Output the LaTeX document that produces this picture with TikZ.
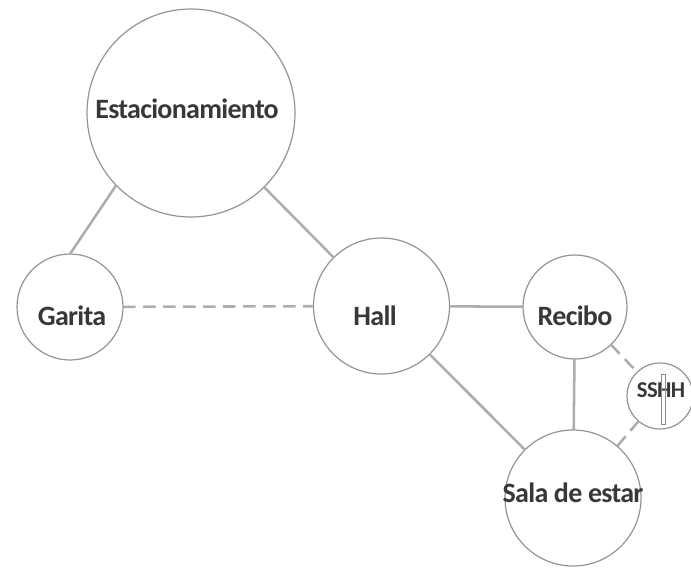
\documentclass[tikz,border=0pt]{standalone}
\usepackage{fontspec}
\setmainfont{Carlito}
\newfontfamily\roomfont[LetterSpace=-2.5]{Carlito}
\begin{document}
\begin{tikzpicture}[x=0.75pt,y=-0.75pt,
  room/.style={circle,draw=black!42,line width=0.9pt,fill=white,inner sep=0pt,outer sep=0pt},
  link/.style={draw=black!32,line width=1.9pt},
  weaklink/.style={link,dash pattern=on 9.5pt off 5.5pt},
  roomname/.style={anchor=base,inner sep=0pt,text=black!78,font=\roomfont\bfseries\fontsize{21}{21}\selectfont},
  smallname/.style={roomname,font=\roomfont\bfseries\fontsize{17}{17}\selectfont}]
\useasboundingbox (0,0) rectangle (691,568);

% rooms
\node[room,minimum size=156pt]   (est)  at (191,113)   {};
\node[room,minimum size=79.5pt]  (gar)  at (70,307)    {};
\node[room,minimum size=102pt]   (hall) at (381.5,306) {};
\node[room,minimum size=78pt]    (rec)  at (575,307)   {};
\node[room,minimum size=49.5pt]  (ssh)  at (660,396)   {};
\node[room,minimum size=102pt]   (sala) at (573,498)   {};

% connections
\draw[link] (est.224) -- (gar.90);
\draw[link] (est) -- (hall);
\draw[weaklink] (gar) -- (hall);
\draw[link] (hall) -- (rec);
\draw[link] (hall) -- (sala);
\draw[link] (rec) -- (sala);
\draw[weaklink] (rec) -- (ssh);
\draw[weaklink] (ssh) -- (sala);

% names
\node[roomname]  (estT)  at (187,118) {Estacionamiento};
\node[roomname]  (garT)  at (72,325)  {Garita};
\node[roomname]  (hallT) at (375,325) {Hall};
\node[roomname]  (recT)  at (575,325) {Recibo};
\node[smallname] (sshT)  at (661,397) {SSHH};
\node[roomname]  (salaT) at (573,502) {Sala de estar};

% thin marker bar inside SSHH
\draw[draw=black!45,line width=0.6pt] (661.5,374) rectangle (665,424);
\end{tikzpicture}
\end{document}
